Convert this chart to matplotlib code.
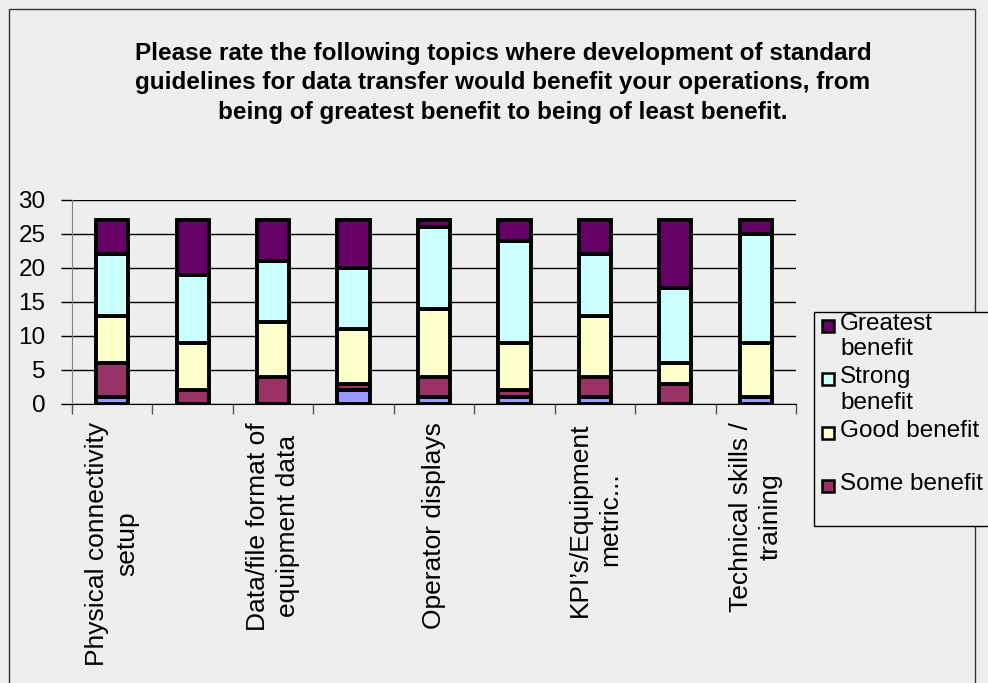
import matplotlib
matplotlib.use("Agg")
import matplotlib.pyplot as plt
from matplotlib.patches import Rectangle
import numpy as np

plt.rcParams['font.family'] = ['Liberation Sans', 'DejaVu Sans']

title = ("Please rate the following topics where development of standard\n"
         "guidelines for data transfer would benefit your operations, from\n"
         "being of greatest benefit to being of least benefit.")

# only every other category name is printed on the axis
categories = ["Physical connectivity\nsetup", "",
              "Data/file format of\nequipment data", "",
              "Operator displays", "",
              "KPI\u2019s/Equipment\nmetric...", "",
              "Technical skills /\ntraining"]

series = ["Least benefit", "Some benefit", "Good benefit", "Strong benefit", "Greatest benefit"]
least = [1, 0, 0, 2, 1, 1, 1, 0, 1]
some = [5, 2, 4, 1, 3, 1, 3, 3, 0]
good = [7, 7, 8, 8, 10, 7, 9, 3, 8]
strong = [9, 10, 9, 9, 12, 15, 9, 11, 16]
greatest = [5, 8, 6, 7, 1, 3, 5, 10, 2]
colors = ["#9999FF", "#993366", "#FFFFCC", "#CCFFFF", "#660066"]

bg = "#EEEEEE"
W, H = 988, 683
fig = plt.figure(figsize=(W / 100, H / 100), dpi=100, facecolor=bg)

# outer chart border (bottom edge runs off the image)
fig.patches.append(Rectangle((9 / W, -0.05), 966 / W, 1.05 - 9 / H,
                             transform=fig.transFigure, fill=False,
                             edgecolor="#333333", linewidth=1))

fig.text(503 / W, 1 - 83 / H, title, ha="center", va="center",
         fontsize=17.5, fontweight="bold", linespacing=1.38)

ax = fig.add_axes([72 / W, 1 - 404 / H, 724 / W, 204 / H])
ax.set_facecolor(bg)

x = np.arange(len(categories))
bottom = np.zeros(len(categories))
for vals, col in zip([least, some, good, strong, greatest], colors):
    ax.bar(x, vals, width=0.4, bottom=bottom, color=col,
           edgecolor="black", linewidth=2.8, zorder=3)
    bottom += np.array(vals)

ax.set_xlim(-0.5, len(categories) - 0.5)
ax.set_ylim(0, 30)
ax.set_yticks(range(0, 31, 5))
ax.yaxis.grid(True, color="black", linewidth=1)
ax.set_axisbelow(True)

ax.set_xticks(x)
ax.set_xticklabels(categories, rotation=90, ha="center", va="top",
                   multialignment="center", fontsize=19, linespacing=1.3)
ax.set_xticks(np.arange(-0.5, len(categories)), minor=True)
ax.tick_params(axis="x", which="major", length=0, pad=13)
ax.tick_params(axis="x", which="minor", length=7, width=1, color="#555555")
ax.tick_params(axis="y", length=8, width=1, pad=11, labelsize=17.5)

for s in ["top", "right"]:
    ax.spines[s].set_visible(False)
ax.spines["left"].set_color("#808080")
ax.spines["bottom"].set_color("black")

# legend, drawn by hand so the swatch sits on the first text line
lx, ly = 814, 312
fig.patches.append(Rectangle((lx / W, 1 - 526 / H), 200 / W, 214 / H,
                             transform=fig.transFigure, facecolor=bg,
                             edgecolor="black", linewidth=1))
legend_items = [("Greatest\nbenefit", colors[4]), ("Strong\nbenefit", colors[3]),
                ("Good benefit", colors[2]), ("Some benefit", colors[1])]
for i, (lab, col) in enumerate(legend_items):
    yc = ly + 14 + i * 53.3
    fig.patches.append(Rectangle((822 / W, 1 - (yc + 6) / H), 12 / W, 12 / H,
                                 transform=fig.transFigure, facecolor=col,
                                 edgecolor="black", linewidth=1.8))
    fig.text(840 / W, 1 - (yc - 13) / H, lab, ha="left", va="top",
             fontsize=17.5, linespacing=1.2)

fig.savefig("out.png", dpi=100, facecolor=bg)
